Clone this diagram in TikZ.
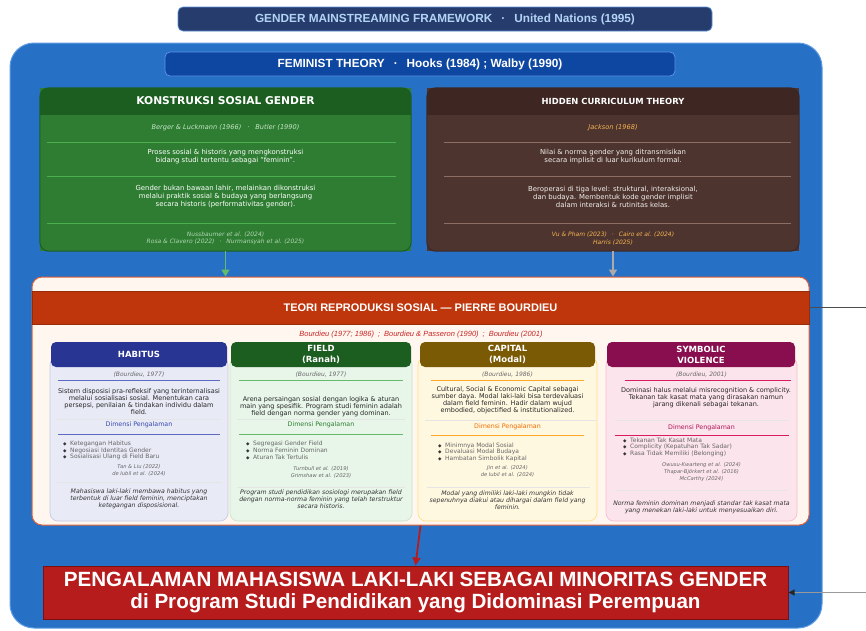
\documentclass[tikz,border=0pt]{standalone}
\usepackage{fontspec}
\setmainfont{Liberation Sans}
\newfontfamily\wide{DejaVu Sans}
\usetikzlibrary{arrows.meta,positioning}

\definecolor{unnavy}{HTML}{253C6C}
\definecolor{unedge}{HTML}{5B8DD6}
\definecolor{untext}{HTML}{B3D3F5}
\definecolor{frameblue}{HTML}{2671C5}
\definecolor{frameedge}{HTML}{5E9BE3}
\definecolor{femblue}{HTML}{0E47A1}
\definecolor{femedge}{HTML}{5C92E6}
\definecolor{konhead}{HTML}{1B5E20}
\definecolor{konbody}{HTML}{2E7D32}
\definecolor{konsep}{HTML}{4CAF50}
\definecolor{koncite}{HTML}{C8E6C9}
\definecolor{konarrow}{HTML}{66BB6A}
\definecolor{hidhead}{HTML}{3E2723}
\definecolor{hidbody}{HTML}{4E342E}
\definecolor{hidsep}{HTML}{8D6E63}
\definecolor{hidcite}{HTML}{F5B453}
\definecolor{hidarrow}{HTML}{B0A9A9}
\definecolor{bourfill}{HTML}{FFF6EF}
\definecolor{bouredge}{HTML}{E0603A}
\definecolor{bourband}{HTML}{BF360C}
\definecolor{bourbandedge}{HTML}{962A09}
\definecolor{bourcite}{HTML}{C62828}
\definecolor{habhead}{HTML}{283593}
\definecolor{habbody}{HTML}{E8EAF6}
\definecolor{habedge}{HTML}{C5CAE9}
\definecolor{habline}{HTML}{5C6BC0}
\definecolor{habdim}{HTML}{3949AB}
\definecolor{fldhead}{HTML}{1B5E20}
\definecolor{fldbody}{HTML}{E8F5E9}
\definecolor{fldedge}{HTML}{C8E6C9}
\definecolor{fldline}{HTML}{66BB6A}
\definecolor{flddim}{HTML}{2E7D32}
\definecolor{caphead}{HTML}{7B5A06}
\definecolor{capbody}{HTML}{FFF8E1}
\definecolor{capedge}{HTML}{FFE082}
\definecolor{capline}{HTML}{FFA726}
\definecolor{capdim}{HTML}{EF6C00}
\definecolor{symhead}{HTML}{880E4F}
\definecolor{symbody}{HTML}{FCE4EC}
\definecolor{symedge}{HTML}{F8BBD0}
\definecolor{symline}{HTML}{D81B60}
\definecolor{symdim}{HTML}{AD1457}
\definecolor{resred}{HTML}{B71C1C}
\definecolor{resedge}{HTML}{7F0F0F}

\newcommand{\fsz}[2]{\fontsize{#1}{#2}\selectfont}
\newcommand{\dia}{\makebox[7pt][l]{\textcolor{black!80}{\wide\fsz{4.5}{5}◆}}}

\tikzset{
    banner/.style={rounded corners=5pt, inner sep=0pt, line width=0.8pt, font=\bfseries\fsz{11.8}{13}},
    panel/.style={inner sep=0pt},
    boxtitle/.style={text=white, inner sep=0pt},
    boxcite/.style={inner sep=0pt, align=center, font=\wide\itshape\fsz{6.6}{8}},
    boxtext/.style={inner sep=0pt, align=center, font=\wide\fsz{6.9}{8}},
    boxrefs/.style={inner sep=0pt, align=center, font=\wide\itshape\fsz{6}{7.3}},
    colbody/.style={rounded corners=8pt, minimum height=164pt, inner sep=0pt, line width=0.7pt},
    colhead/.style={rounded corners=5pt, minimum height=25pt, inner sep=0pt, text=white, align=center, font=\wide\bfseries\fsz{8.5}{11}},
    colcite/.style={inner sep=0pt, text=black!60, font=\wide\itshape\fsz{6}{7}},
    coldesc/.style={inner sep=0pt, align=center, text=black!85, font=\wide\fsz{6.5}{7}},
    coldim/.style={inner sep=0pt, font=\wide\fsz{6.3}{7}},
    collist/.style={inner sep=0pt, anchor=west, align=left, text=black!60, font=\wide\fsz{6}{6.6}},
    colrefs/.style={inner sep=0pt, align=center, text=black!60, font=\wide\itshape\fsz{5.2}{7}},
    colnote/.style={inner sep=0pt, align=center, text=black!80, font=\wide\itshape\fsz{6.2}{7}},
    faint/.style={black!10, line width=0.5pt}
}

\begin{document}
\begin{tikzpicture}[x=1pt, y=-1pt]
\path[use as bounding box, fill=white] (0,0) rectangle (866,630);

% top banner
\node (un) [banner, fill=unnavy, draw=unedge, text=untext, minimum width=534pt, minimum height=24pt] at (445,19) {GENDER MAINSTREAMING FRAMEWORK\hspace{9pt}·\hspace{9pt}United Nations (1995)};

% outer frame
\node (frame) [panel, draw=frameedge, fill=frameblue, line width=1pt, rounded corners=24pt, minimum width=812pt, minimum height=585pt] at (416,335.5) {};
\node (fem) [banner, fill=femblue, draw=femedge, text=white, minimum width=510pt, minimum height=24pt] at (420,64) {FEMINIST THEORY\hspace{9pt}·\hspace{9pt}Hooks (1984) ;\ Walby (1990)};

% konstruksi sosial gender
\node (konstr) [panel, fill=konbody, minimum width=371pt, minimum height=163pt] at (225.5,169.5) {};
\begin{scope}
    \clip[rounded corners=9pt] (konstr.north west) rectangle (konstr.south east);
    \fill[konhead] (konstr.north west) rectangle ([yshift=-27pt]konstr.north east);
\end{scope}
\draw[konhead, line width=1pt, rounded corners=9pt] (konstr.north west) rectangle (konstr.south east);
\node (kon-title) [boxtitle, font=\wide\bfseries\fsz{10.7}{12}] at (225.5,101) {KONSTRUKSI SOSIAL GENDER};
\node (kon-cite) [boxcite, text=koncite] at (225.5,128) {Berger \& Luckmann (1966)\hspace{6pt}·\hspace{6pt}Butler (1990)};
\draw[konsep] (47,142) -- (396,142);
\node (kon-def) [boxtext, text=white] at (225.5,157) {Proses sosial \& historis yang mengkonstruksi\\bidang studi tertentu sebagai “feminin”.};
\draw[konsep] (47,176) -- (396,176);
\node (kon-body) [boxtext, text=white] at (225.5,197) {Gender bukan bawaan lahir, melainkan dikonstruksi\\melalui praktik sosial \& budaya yang berlangsung\\secara historis (performativitas gender).};
\draw[konsep] (47,223) -- (396,223);
\node (kon-refs) [boxrefs, text=koncite!85!konbody] at (225.5,238.5) {Nussbaumer et al. (2024)\\Rosa \& Clavero (2022)\hspace{5pt}·\hspace{5pt}Nurmansyah et al. (2025)};

% hidden curriculum
\node (hidden) [panel, fill=hidbody, minimum width=372pt, minimum height=163pt] at (613,169.5) {};
\begin{scope}
    \clip[rounded corners=9pt] (hidden.north west) rectangle (hidden.south east);
    \fill[hidhead] (hidden.north west) rectangle ([yshift=-27pt]hidden.north east);
\end{scope}
\draw[hidhead, line width=1pt, rounded corners=9pt] (hidden.north west) rectangle (hidden.south east);
\node (hid-title) [boxtitle, font=\wide\bfseries\fsz{8.4}{10}] at (613,101) {HIDDEN CURRICULUM THEORY};
\node (hid-cite) [boxcite, text=hidcite] at (613,128) {Jackson (1968)};
\draw[hidsep] (444,142) -- (791,142);
\node (hid-def) [boxtext, text=white!92!hidbody] at (613,157) {Nilai \& norma gender yang ditransmisikan\\secara implisit di luar kurikulum formal.};
\draw[hidsep] (444,176) -- (791,176);
\node (hid-body) [boxtext, text=white!92!hidbody] at (613,197) {Beroperasi di tiga level: struktural, interaksional,\\dan budaya. Membentuk kode gender implisit\\dalam interaksi \& rutinitas kelas.};
\draw[hidsep] (444,223) -- (791,223);
\node (hid-refs) [boxrefs, text=hidcite] at (613,238.5) {Vu \& Pham (2023)\hspace{5pt}·\hspace{5pt}Cairo et al. (2024)\\Harris (2025)};

% bourdieu
\node (bourd) [panel, draw=bouredge, fill=bourfill, line width=1pt, rounded corners=10pt, minimum width=777pt, minimum height=248pt] at (420.5,401) {};
\node (bour-band) [panel, draw=bourbandedge, fill=bourband, minimum width=777pt, minimum height=33pt, text=white, font=\bfseries\fsz{11}{13}] at (420.5,307.5) {TEORI REPRODUKSI SOSIAL — PIERRE BOURDIEU};
\node (bour-cite) [inner sep=0pt, text=bourcite, font=\itshape\fsz{7.5}{9}] at (421,335) {Bourdieu (1977; 1986)\hspace{4pt};\hspace{4pt}Bourdieu \& Passeron (1990)\hspace{4pt};\hspace{4pt}Bourdieu (2001)};

% habitus
\node (hab-body) [colbody, fill=habbody, draw=habedge, minimum width=178pt] at (139,439) {};
\node (hab-head) [colhead, fill=habhead, minimum width=176pt] at (139,354.5) {HABITUS};
\node (hab-cite) [colcite] at (139,375) {(Bourdieu, 1977)};
\draw[habline, line width=0.8pt] (58,380) -- (220,380);
\node (hab-desc) [coldesc] at (139,401.5) {Sistem disposisi pra-refleksif yang terinternalisasi\\melalui sosialisasi sosial. Menentukan cara\\persepsi, penilaian \& tindakan individu dalam\\field.};
\draw[faint] (56,419) -- (222,419);
\node (hab-dim) [coldim, text=habdim] at (139,424.5) {Dimensi Pengalaman};
\draw[habline, line width=0.8pt] (58,434) -- (220,434);
\node (hab-list) [collist] at (63,450.5) {\dia Ketegangan Habitus\\\dia Negosiasi Identitas Gender\\\dia Sosialisasi Ulang di Field Baru};
\node (hab-refs) [colrefs] at (139,470.5) {Tan \& Liu (2022)\\de Iubil et al. (2024)};
\draw[faint] (56,482) -- (222,482);
\node (hab-note) [colnote] at (139,499) {Mahasiswa laki-laki membawa habitus yang\\terbentuk di luar field feminin, menciptakan\\ketegangan disposisional.};

% field
\node (fld-body) [colbody, fill=fldbody, draw=fldedge, minimum width=182pt] at (321,439) {};
\node (fld-head) [colhead, fill=fldhead, minimum width=180pt] at (321,354.5) {FIELD\\(Ranah)};
\node (fld-cite) [colcite] at (321,375) {(Bourdieu, 1977)};
\draw[fldline, line width=0.8pt] (239,380) -- (403,380);
\node (fld-desc) [coldesc] at (321,406.5) {Arena persaingan sosial dengan logika \& aturan\\main yang spesifik. Program studi feminin adalah\\field dengan norma gender yang dominan.};
\draw[faint] (237,419) -- (405,419);
\node (fld-dim) [coldim, text=flddim] at (321,424.5) {Dimensi Pengalaman};
\draw[fldline, line width=0.8pt] (239,434) -- (403,434);
\node (fld-list) [collist] at (246,450.5) {\dia Segregasi Gender Field\\\dia Norma Feminin Dominan\\\dia Aturan Tak Tertulis};
\node (fld-refs) [colrefs] at (321,472) {Turnbull et al. (2019)\\Grimshaw et al. (2023)};
\draw[faint] (237,487) -- (405,487);
\node (fld-note) [colnote] at (321,499) {Program studi pendidikan sosiologi merupakan field\\dengan norma-norma feminin yang telah terstruktur\\secara historis.};

% capital
\node (cap-body) [colbody, fill=capbody, draw=capedge, minimum width=179pt] at (507.5,439) {};
\node (cap-head) [colhead, fill=caphead, minimum width=175pt] at (507.5,354.5) {CAPITAL\\(Modal)};
\node (cap-cite) [colcite] at (507.5,375) {(Bourdieu, 1986)};
\draw[capline, line width=0.8pt] (431,380) -- (584,380);
\node (cap-desc) [coldesc] at (507.5,400.5) {Cultural, Social \& Economic Capital sebagai\\sumber daya. Modal laki-laki bisa terdevaluasi\\dalam field feminin. Hadir dalam wujud\\embodied, objectified \& institutionalized.};
\draw[faint] (425,420) -- (597,420);
\node (cap-dim) [coldim, text=capdim] at (507.5,427) {Dimensi Pengalaman};
\draw[capline, line width=0.8pt] (431,435) -- (584,435);
\node (cap-list) [collist] at (438,452) {\dia Minimnya Modal Sosial\\\dia Devaluasi Modal Budaya\\\dia Hambatan Simbolik Kapital};
\node (cap-refs) [colrefs] at (507.5,471.5) {Jin et al. (2024)\\de Iubil et al. (2024)};
\draw[faint] (427,487) -- (590,487);
\node (cap-note) [colnote] at (507.5,500) {Modal yang dimiliki laki-laki mungkin tidak\\sepenuhnya diakui atau dihargai dalam field yang\\feminin.};

% symbolic violence
\node (sym-body) [colbody, fill=symbody, draw=symedge, minimum width=191pt] at (701.5,439) {};
\node (sym-head) [colhead, fill=symhead, minimum width=188pt] at (701,354.5) {SYMBOLIC\\VIOLENCE};
\node (sym-cite) [colcite] at (701.5,375) {(Bourdieu, 2001)};
\draw[symline, line width=0.8pt] (625,380) -- (791,380);
\node (sym-desc) [coldesc] at (706,398) {Dominasi halus melalui misrecognition \& complicity.\\Tekanan tak kasat mata yang dirasakan namun\\jarang dikenali sebagai tekanan.};
\draw[faint] (615,420) -- (788,420);
\node (sym-dim) [coldim, text=symdim] at (701.5,428) {Dimensi Pengalaman};
\draw[symline, line width=0.8pt] (615,435) -- (789,435);
\node (sym-list) [collist] at (623,447) {\dia Tekanan Tak Kasat Mata\\\dia Complicity (Kepatuhan Tak Sadar)\\\dia Rasa Tidak Memiliki (Belonging)};
\node (sym-refs) [colrefs] at (701.5,472) {Owusu-Kwarteng et al. (2024)\\Thapar-Björkert et al. (2016)\\McCarthy (2024)};
\draw[faint] (615,490) -- (788,490);
\node (sym-note) [colnote] at (701.5,507.5) {Norma feminin dominan menjadi standar tak kasat mata\\yang menekan laki-laki untuk menyesuaikan diri.};

% result
\node (result) [panel, draw=resedge, fill=resred, line width=1pt, minimum width=745pt, minimum height=53pt, text=white, align=center, font=\bfseries\fsz{20.6}{22}] at (415.5,592.5) {PENGALAMAN MAHASISWA LAKI-LAKI SEBAGAI MINORITAS GENDER\\di Program Studi Pendidikan yang Didominasi Perempuan};

% connectors
\draw[konarrow, line width=1.5pt, -{Triangle[length=7pt,width=8pt]}] (konstr.south) -- (konstr.south |- bourd.north);
\draw[hidarrow, line width=1.5pt, -{Triangle[length=7pt,width=8pt]}] (hidden.south) -- (hidden.south |- bourd.north);
\draw[resred, line width=1.8pt, -{Triangle[length=8pt,width=8pt]}] (bourd.south) -- (result.north);
\coordinate (side-top) at (866,307.5);
\draw[black!70, line width=0.8pt] (side-top) -- (bour-band.east);
\coordinate (side-bot) at (866,592.5);
\draw[black!40, line width=1.2pt, -{Triangle[length=6pt,width=6pt,color=black!85]}] (side-bot) -- (result.east);
\end{tikzpicture}
\end{document}
